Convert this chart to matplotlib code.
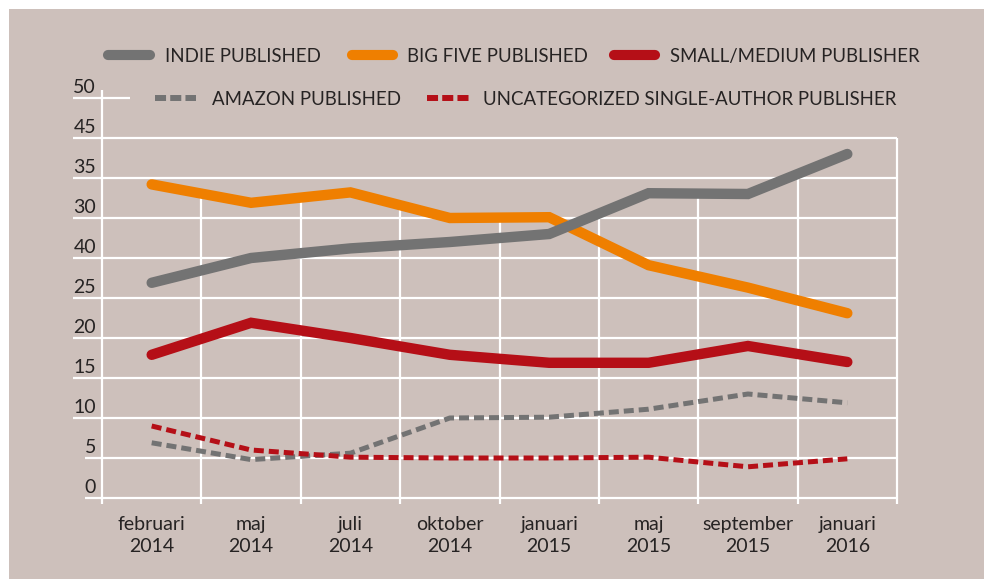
import numpy as np
import matplotlib
matplotlib.use("Agg")
import matplotlib.pyplot as plt
from matplotlib.lines import Line2D
from matplotlib.patches import Rectangle
from matplotlib import transforms

# ---------------- data ----------------
categories = ["februari\n2014", "maj\n2014", "juli\n2014", "oktober\n2014",
              "januari\n2015", "maj\n2015", "september\n2015", "januari\n2016"]
indie = [26.9, 30.0, 31.2, 32.0, 33.0, 38.1, 38.0, 43.0]
big_five = [39.2, 36.9, 38.2, 35.0, 35.1, 29.1, 26.3, 23.1]
small_medium = [17.9, 21.9, 20.0, 17.9, 16.9, 16.9, 19.0, 17.0]
amazon = [6.9, 4.8, 5.6, 10.0, 10.1, 11.1, 13.0, 11.9]
uncategorized = [9.0, 6.0, 5.1, 5.0, 5.0, 5.1, 3.9, 4.9]
y_values = [0, 5, 10, 15, 20, 25, 30, 35, 40, 45, 50]
y_labels = ["0", "5", "10", "15", "20", "25", "40", "30", "35", "45", "50"]
legend_labels = ["INDIE PUBLISHED", "BIG FIVE PUBLISHED", "SMALL/MEDIUM PUBLISHER",
                 "AMAZON PUBLISHED", "UNCATEGORIZED SINGLE-AUTHOR PUBLISHER"]

# ---------------- style ----------------
BG = "#cdc0bb"
GRAY = "#737373"
ORANGE = "#ef7f00"
RED = "#b50f17"
TXT = "#262323"
FONT = "Lato"
FS = 14
LEG_FS = 13.4

W, H = 984, 579
fig = plt.figure(figsize=(W / 100, H / 100), dpi=100)
fig.patch.set_facecolor("white")
plt.rcParams["font.family"] = [FONT, "DejaVu Sans"]

def fx(x):
    return x / W

def fy(y):
    return 1 - y / H

fig.add_artist(Rectangle((fx(9), 0), 1 - fx(9), fy(9), transform=fig.transFigure,
                         facecolor=BG, edgecolor="none", zorder=0))

ax = fig.add_axes([fx(102), fy(498), (897 - 102) / W, (498 - 98) / H])
ax.patch.set_visible(False)
for s in ax.spines.values():
    s.set_visible(False)
n = len(categories)
x = np.arange(n)
ax.set_xlim(-0.5, n - 0.5)
ax.set_ylim(0, 50)
ax.set_yticks([])
ax.set_xticks(x)
ax.set_xticklabels(categories, fontsize=FS, color=TXT, linespacing=1.38,
                   family=[FONT, "DejaVu Sans"])
ax.tick_params(axis="x", length=0, pad=13)

GRID_LW = 1.6

# y labels (right aligned, sitting above their grid line)
lab_tr = transforms.offset_copy(ax.transData, fig=fig, x=-6, y=5, units="dots")
ylab_texts = []
for v, lab in zip(y_values, y_labels):
    t = ax.text(-0.5, v, lab, transform=lab_tr, ha="right", va="baseline",
                fontsize=FS, color=TXT, family=[FONT, "DejaVu Sans"])
    ylab_texts.append(t)

fig.canvas.draw()
renderer = fig.canvas.get_renderer()
inv = ax.transData.inverted()

# horizontal grid lines starting at the left edge of their label
top_cut = (130 - 102) / ((897 - 102) / n) - 0.5  # top line hidden behind legend
for v, t in zip(y_values, ylab_texts):
    bb = t.get_window_extent(renderer)
    x0 = inv.transform((bb.x0, 0))[0]
    x1 = top_cut if v == 50 else n - 0.5
    ax.plot([x0, x1], [v, v], color="white", lw=GRID_LW, clip_on=False, zorder=1,
            solid_capstyle="butt")

# vertical grid lines: from below the axis up to the highest series
series_all = [indie, big_five, small_medium, amazon, uncategorized]
bounds = np.arange(n + 1) - 0.5
for i, b in enumerate(bounds):
    if i == 0:
        top = 51
    elif i == n:
        top = 45
    else:
        top = max(np.interp(b, x, s) for s in series_all)
    ax.plot([b, b], [-0.8, top], color="white", lw=GRID_LW, clip_on=False, zorder=1,
            solid_capstyle="butt")

# series
SOLID_LW = 7.5
DASH_LW = 3.6
ax.plot(x, amazon, color=GRAY, lw=DASH_LW, dashes=(2.0, 1.0), dash_capstyle="butt", zorder=3)
ax.plot(x, uncategorized, color=RED, lw=DASH_LW, dashes=(2.0, 1.0), dash_capstyle="butt", zorder=3)
ax.plot(x, small_medium, color=RED, lw=SOLID_LW, solid_capstyle="round", solid_joinstyle="miter", zorder=4)
ax.plot(x, big_five, color=ORANGE, lw=SOLID_LW, solid_capstyle="round", solid_joinstyle="miter", zorder=4)
ax.plot(x, indie, color=GRAY, lw=SOLID_LW, solid_capstyle="round", solid_joinstyle="miter", zorder=5)

# legend (manual)
leg_specs = [
    (legend_labels[0], GRAY, "solid", 108, 150, 165, 55),
    (legend_labels[1], ORANGE, "solid", 352, 393, 407, 55),
    (legend_labels[2], RED, "solid", 614, 655, 670, 55),
    (legend_labels[3], GRAY, "dash", 155, 196, 212, 98),
    (legend_labels[4], RED, "dash", 427, 469, 483, 98),
]
for lab, col, kind, hx0, hx1, tx, ty in leg_specs:
    if kind == "solid":
        ln = Line2D([fx(hx0), fx(hx1)], [fy(ty), fy(ty)], transform=fig.transFigure,
                    color=col, lw=7.3, solid_capstyle="round")
    else:
        ln = Line2D([fx(hx0), fx(hx1)], [fy(ty), fy(ty)], transform=fig.transFigure,
                    color=col, lw=4.3, dashes=(1.85, 0.7), dash_capstyle="butt")
    fig.add_artist(ln)
    fig.text(fx(tx), fy(ty), lab, ha="left", va="center_baseline", fontsize=LEG_FS,
             color=TXT, family=[FONT, "DejaVu Sans"])

fig.savefig("out.png", dpi=100, facecolor=fig.get_facecolor())
